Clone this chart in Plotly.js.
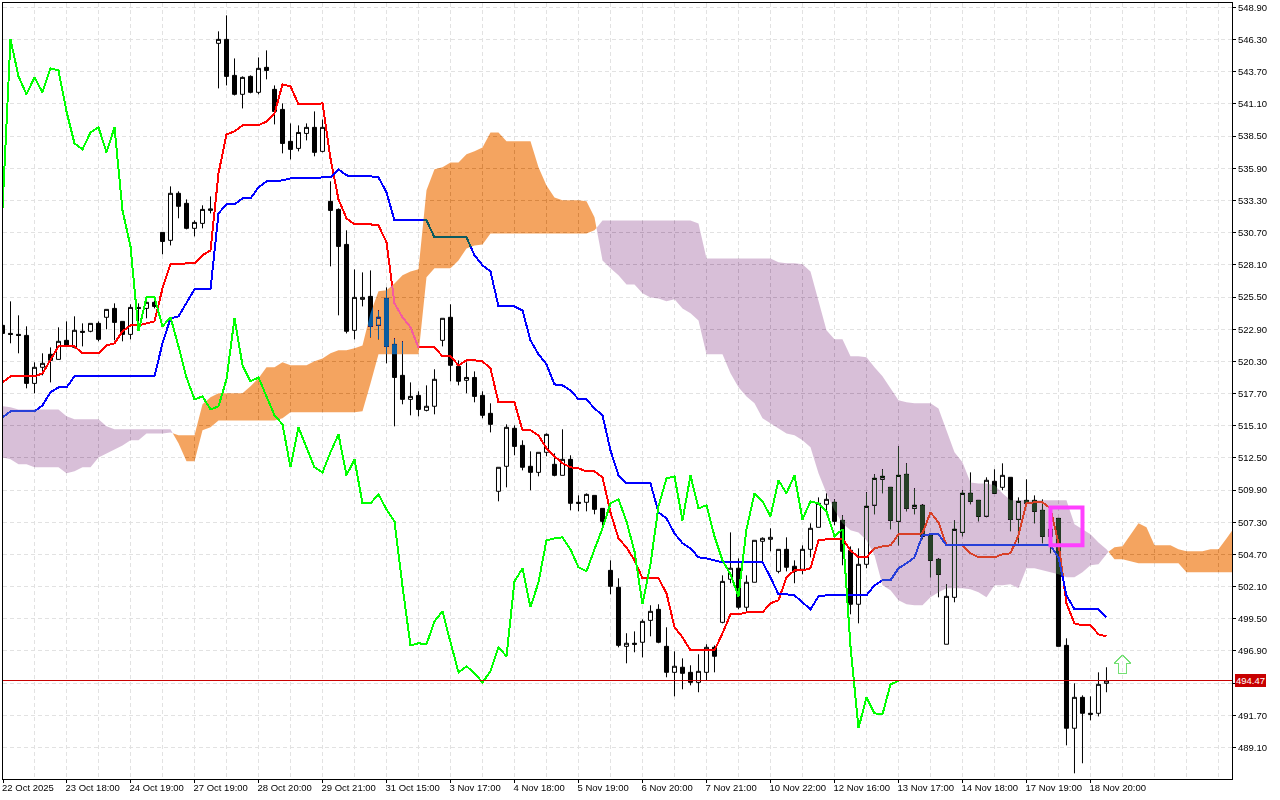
<!DOCTYPE html>
<html>
<head>
<meta charset="utf-8">
<script src="https://cdn.plot.ly/plotly-3.0.1.min.js"></script>
<style>html,body{margin:0;padding:0;background:#fff}#chart{width:1280px;height:800px}</style>
</head>
<body>
<div id="chart"></div>
<script>
const opens = [
523.21,522.56,522.48,522.40,518.52,519.82,520.87,520.46,522.00,521.43,
522.73,522.73,523.37,523.86,524.58,523.53,522.48,524.66,524.58,525.07,
530.72,530.08,533.88,533.07,531.05,531.45,532.50,546.00,546.32,543.41,
541.88,543.33,542.04,544.06,542.28,540.66,538.08,537.51,538.72,539.21,
537.27,533.23,532.58,529.75,522.81,525.31,525.55,523.21,525.39,521.67,
519.17,517.23,517.55,516.34,516.67,522.00,523.86,519.90,518.77,519.00,
517.55,516.10,509.80,511.82,514.89,513.51,511.82,511.33,512.95,511.98,
511.09,512.38,508.91,508.91,509.47,508.42,503.41,502.04,497.27,497.52,
497.60,499.37,500.26,497.27,495.17,495.58,495.17,494.36,495.17,497.19,
499.21,502.69,503.58,500.43,502.45,505.76,505.92,503.33,505.11,503.74,
503.50,505.11,506.89,508.75,508.91,507.45,505.03,500.67,503.90,508.67,
510.77,510.12,507.37,511.17,508.42,508.67,506.24,504.30,497.44,501.23,
506.48,509.64,509.07,507.78,510.61,510.12,510.93,507.53,509.07,509.07,
508.26,506.16,507.61,497.35,490.65,493.15,491.86,491.86,494.28];
const highs = [
525.23,525.15,524.02,523.13,520.22,520.95,521.43,523.05,523.53,523.94,
523.37,523.37,523.53,524.50,524.99,523.53,524.91,524.99,525.47,525.47,
530.72,534.44,534.04,533.39,531.69,532.91,533.63,546.97,548.26,544.78,
543.33,543.41,544.86,545.43,542.60,541.15,539.53,539.37,539.53,540.50,
539.85,534.85,532.66,530.89,527.73,527.49,527.65,524.42,526.28,522.16,
521.92,518.60,517.88,518.36,519.66,523.78,524.91,520.38,520.22,519.49,
517.88,516.91,511.74,515.21,515.13,513.92,513.03,512.95,514.48,512.87,
514.81,512.71,509.47,509.63,509.47,508.42,504.22,502.77,498.33,498.48,
499.45,500.59,500.67,498.81,496.87,496.30,495.74,496.63,497.44,497.35,
503.01,506.48,504.38,503.01,505.84,506.08,506.81,505.11,506.08,504.22,
505.43,507.21,509.31,509.63,509.15,507.86,505.35,505.19,509.72,511.17,
511.58,510.12,513.43,512.06,510.04,508.75,506.32,504.38,502.28,507.45,
509.88,511.33,509.07,510.93,511.58,512.06,510.93,509.31,510.77,509.47,
509.15,507.29,507.61,497.92,494.28,493.31,493.23,495.17,495.58];
const lows = [
522.00,521.76,520.95,518.12,517.72,519.17,518.60,520.46,521.51,521.35,
521.51,522.65,521.92,522.89,522.00,521.92,522.08,522.97,523.78,524.58,
528.95,529.67,531.86,530.97,530.40,531.05,532.26,542.36,542.60,541.79,
540.74,541.96,541.88,543.09,539.45,537.11,536.62,537.27,538.16,536.87,
537.19,527.98,524.02,522.56,522.08,524.74,522.24,522.08,520.14,515.05,
516.83,515.94,515.86,516.26,516.02,521.51,518.69,518.36,517.72,516.99,
515.70,514.56,508.99,510.12,512.71,511.49,509.88,511.01,512.63,511.01,
511.09,508.26,508.18,508.18,507.94,507.05,501.48,497.19,495.90,496.79,
496.38,498.08,497.52,494.77,493.23,493.80,494.12,493.56,494.52,495.17,
499.13,502.37,500.26,500.02,502.45,504.06,504.95,503.17,503.33,502.37,
503.09,504.46,506.89,507.86,507.05,503.82,499.86,499.13,503.58,507.94,
509.64,506.73,505.43,508.18,507.94,505.92,502.85,501.23,497.44,500.83,
506.16,508.75,507.37,507.70,509.64,509.88,506.57,505.60,508.83,507.21,
505.60,504.79,497.27,489.27,487.01,487.82,491.29,491.61,493.56];
const closes = [
522.56,522.48,522.40,518.52,519.82,520.14,520.38,521.92,521.51,522.81,
522.65,523.37,522.08,524.50,523.45,522.48,524.66,524.58,525.07,524.74,
529.99,533.88,532.83,531.05,531.53,532.58,532.62,546.32,543.33,541.88,
543.25,542.04,543.98,543.81,540.50,537.91,537.43,538.80,539.21,537.19,
539.21,532.50,529.59,522.73,525.47,525.47,523.13,523.86,521.51,519.00,
517.23,517.47,516.42,516.67,518.85,523.78,519.98,518.69,519.00,517.47,
515.94,515.21,511.74,514.97,513.43,511.74,511.33,512.95,514.40,511.09,
512.38,508.83,508.83,509.55,508.34,507.37,502.12,497.35,497.52,497.44,
499.29,500.10,497.60,495.17,495.66,495.09,494.36,495.25,497.19,496.47,
502.52,503.58,500.43,502.45,505.84,506.00,506.08,505.11,503.66,503.33,
505.11,506.81,508.83,509.15,507.37,504.95,500.67,503.90,508.59,510.85,
511.01,507.45,511.09,508.42,508.67,506.16,504.22,503.09,501.31,506.73,
509.64,508.99,507.78,510.69,509.64,511.09,507.53,508.99,508.83,508.18,
506.16,506.73,497.27,490.65,493.15,491.86,491.78,494.20,494.47];
const tenkan = [
518.60,519.09,519.09,519.09,519.09,519.33,520.38,521.51,521.51,521.51,
520.95,520.95,520.95,521.59,521.76,522.73,523.21,523.21,523.37,523.53,
526.20,528.14,528.14,528.22,528.22,528.87,529.27,535.49,538.64,538.89,
539.37,539.37,539.37,539.69,540.34,542.68,542.52,541.07,541.07,541.07,
541.15,536.70,533.39,531.86,531.37,531.37,531.37,531.29,529.92,524.99,
523.86,523.05,521.43,521.43,521.43,520.71,520.71,519.98,520.38,520.38,
520.30,519.74,516.99,516.99,516.99,514.73,514.73,514.32,513.27,512.63,
512.06,511.74,511.66,511.41,511.41,510.93,508.10,505.99,505.27,504.22,
502.77,502.77,502.77,501.56,498.81,498.00,496.95,496.95,496.95,496.95,
498.32,499.86,499.86,500.02,500.02,500.02,500.75,500.99,502.85,503.41,
503.41,503.58,505.84,505.92,505.92,505.99,505.03,504.46,504.46,505.19,
505.35,505.43,506.32,506.32,506.32,506.40,508.10,507.29,505.43,505.43,
505.43,504.79,504.46,504.46,504.46,504.71,504.79,506.24,508.83,508.91,
508.91,508.42,505.60,500.75,499.13,498.97,498.97,498.24,498.08];
const kijun = [
515.78,516.26,516.26,516.26,516.26,516.75,517.80,518.20,518.20,519.09,
519.09,519.09,519.09,519.09,519.09,519.09,519.09,519.09,519.09,519.09,
521.76,523.78,523.94,525.07,526.12,526.12,526.12,532.26,532.99,532.99,
533.47,533.47,534.36,534.85,534.85,534.93,535.09,535.09,535.09,535.09,
535.17,535.17,535.81,535.33,535.25,535.25,535.25,535.17,533.96,531.69,
531.69,531.69,531.69,531.69,530.32,530.32,530.32,530.32,530.32,528.87,
528.06,527.57,524.74,524.74,524.74,524.42,522.00,520.87,520.06,518.44,
518.36,517.96,517.23,517.23,516.50,515.94,513.11,511.09,510.44,510.44,
510.44,510.44,508.10,507.61,506.40,505.60,505.19,504.46,504.38,504.22,
504.06,504.06,504.06,504.06,504.06,504.06,502.85,501.47,501.47,501.39,
500.83,500.26,501.31,501.39,501.39,501.39,501.39,501.39,501.39,502.20,
502.61,502.61,503.58,503.98,504.46,506.24,506.32,506.32,505.43,505.43,
505.43,505.43,505.43,505.43,505.43,505.43,505.43,505.43,505.43,505.43,
505.43,505.43,504.46,501.39,500.26,500.26,500.26,500.26,499.62];
const chikou = [
532.62,546.32,543.33,541.88,543.25,542.04,543.98,543.81,540.50,537.91,
537.43,538.80,539.21,537.19,539.21,532.50,529.59,522.73,525.47,525.47,
523.13,523.86,521.51,519.00,517.23,517.47,516.42,516.67,518.85,523.78,
519.98,518.69,519.00,517.47,515.94,515.21,511.74,514.97,513.43,511.74,
511.33,512.95,514.40,511.09,512.38,508.83,508.83,509.55,508.34,507.37,
502.12,497.35,497.52,497.44,499.29,500.10,497.60,495.17,495.66,495.09,
494.36,495.25,497.19,496.47,502.52,503.58,500.43,502.45,505.84,506.00,
506.08,505.11,503.66,503.33,505.11,506.81,508.83,509.15,507.37,504.95,
500.67,503.90,508.59,510.85,511.01,507.45,511.09,508.42,508.67,506.16,
504.22,503.09,501.31,506.73,509.64,508.99,507.78,510.69,509.64,511.09,
507.53,508.99,508.83,508.18,506.16,506.73,497.27,490.65,493.15,491.86,
491.78,494.20,494.47];
const senkouA = [
512.54,512.38,511.98,511.98,511.74,511.74,511.74,511.74,511.25,511.41,
511.74,511.74,512.54,512.87,513.19,513.51,513.92,513.92,514.48,514.48,
514.48,514.56,514.32,514.32,514.32,516.83,517.39,517.72,517.72,517.72,
517.72,518.28,518.93,519.82,519.82,520.22,519.98,519.98,519.98,520.30,
520.54,520.95,521.19,521.19,521.35,521.59,524.18,525.96,526.04,526.60,
527.25,527.57,527.74,534.12,535.82,535.98,536.38,536.38,537.03,537.27,
537.59,538.80,538.80,538.08,538.08,538.08,538.08,535.98,534.52,533.55,
533.31,533.31,533.31,533.23,531.94,528.46,527.82,527.25,526.52,526.52,
525.80,525.47,525.39,525.15,525.31,524.58,524.18,523.61,520.87,520.87,
520.87,519.33,518.20,517.47,516.91,515.70,515.29,514.89,514.48,514.32,
513.92,513.35,511.25,509.64,508.26,507.21,506.65,506.48,505.84,504.63,
502.20,501.80,500.99,500.67,500.59,500.59,501.23,501.64,501.96,501.96,
501.96,501.88,501.64,501.23,502.20,502.20,502.28,501.96,503.58,503.58,
503.41,503.25,503.09,502.85,502.85,503.25,503.82,503.90,504.79,505.27,
505.35,506.24,507.21,506.89,505.43,505.43,505.43,505.11,504.95,504.95,
504.95,505.11,505.11,505.99,506.89];
const senkouB = [
516.67,516.59,516.42,516.42,516.42,516.42,516.42,516.42,515.86,515.62,
515.62,515.62,515.62,515.05,514.81,514.81,514.81,514.81,514.81,514.81,
514.81,514.81,513.68,512.22,512.22,514.73,514.97,515.53,515.53,515.53,
515.53,515.53,515.53,515.53,515.53,515.70,516.18,516.18,516.18,516.18,
516.18,516.18,516.18,516.18,516.18,516.26,518.52,520.87,520.87,520.87,
520.87,520.87,520.87,527.09,527.82,527.82,527.82,528.46,529.43,529.67,
529.75,530.64,530.64,530.64,530.64,530.64,530.64,530.64,530.64,530.64,
530.64,530.64,530.64,530.64,530.89,531.69,531.69,531.69,531.69,531.69,
531.69,531.69,531.69,531.69,531.69,531.69,531.69,531.45,528.62,528.62,
528.62,528.62,528.62,528.62,528.62,528.62,528.62,528.30,528.22,528.22,
528.14,527.57,525.23,522.81,522.08,522.08,520.71,520.71,520.63,519.82,
519.09,518.12,517.15,516.99,516.91,516.91,516.91,516.50,514.73,512.95,
512.14,510.52,510.44,510.44,510.28,509.64,509.07,509.07,509.07,509.07,
509.07,509.07,509.07,509.07,507.13,506.73,506.32,505.67,505.11,504.30,
504.30,504.14,503.98,503.98,503.98,503.98,503.98,503.98,503.25,503.25,
503.25,503.25,503.25,503.25,503.25];
const priceTickVals = [489.1,491.7,494.3,496.9,499.5,502.1,504.7,507.3,509.9,512.5,515.1,517.7,520.3,522.9,525.5,528.1,530.7,533.3,535.9,538.5,541.1,543.7,546.3,548.9];
const priceTickText = ["489.10","491.70","","496.90","499.50","502.10","504.70","507.30","509.90","512.50","515.10","517.70","520.30","522.90","525.50","528.10","530.70","533.30","535.90","538.50","541.10","543.70","546.30","548.90"];
const timeTickVals = [0.07,8,16,24,32,40,48,56,64,72,80,88,96,104,112,120,128,136];
const timeTickText = ["22 Oct 2025","23 Oct 18:00","24 Oct 19:00","27 Oct 19:00","28 Oct 20:00","29 Oct 21:00","31 Oct 15:00","3 Nov 17:00","4 Nov 18:00","5 Nov 19:00","6 Nov 20:00","7 Nov 21:00","10 Nov 22:00","12 Nov 16:00","13 Nov 17:00","14 Nov 18:00","17 Nov 19:00","18 Nov 20:00"];
const timeGridVals = [4,12,20,28,36,44,52,60,68,76,84,92,100,108,116,124,132,140,144,148,152];
const lastPriceLabel = '494.47';
const lastPriceLevel = 494.52;
const signalBoxX = [131,135];
const signalBoxY = [505.43,508.50];
const arrowX = [140,141,140.5,140.5,139.5,139.5,139,140];
const arrowY = [496.55,495.90,495.90,495.09,495.09,495.90,495.90,496.55];

const GRID = '#e2e2e2';
const FONT = 'Liberation Sans, Arial, sans-serif';
const ORANGE_INV = '#0B5B9F'; // complement of sandy brown, blended by difference
const PURPLE_INV = '#274027'; // complement of thistle, blended by difference

const idx = a => a.map((_, i) => i);

// cloud polygons: split where the two spans cross
function cloud(A, B) {
  const orange = {x: [], y: []}, purple = {x: [], y: []};
  let top = [], bot = [];
  const flush = s => {
    const t = s > 0 ? orange : purple;
    const pts = top.concat(bot.reverse());
    pts.forEach(p => { t.x.push(p[0]); t.y.push(p[1]); });
    t.x.push(pts[0][0], null); t.y.push(pts[0][1], null);
    top = []; bot = [];
  };
  for (let i = 0; i < A.length; i++) {
    const s = A[i] - B[i];
    top.push([i, A[i]]); bot.push([i, B[i]]);
    if (i + 1 < A.length) {
      const n = A[i + 1] - B[i + 1];
      if (s * n < 0) {
        const t = s / (s - n), xc = i + t, yc = A[i] + t * (A[i + 1] - A[i]);
        top.push([xc, yc]); bot.push([xc, yc]);
        flush(s);
        top.push([xc, yc]); bot.push([xc, yc]);
      }
    } else flush(s);
  }
  return {orange, purple};
}
const kumo = cloud(senkouA, senkouB);

const line = (x, y, color, w) => ({type: 'scatter', mode: 'lines', x, y, line: {color, width: w}, hoverinfo: 'skip', showlegend: false});
const fillTrace = (p, c) => ({type: 'scatter', mode: 'lines', x: p.x, y: p.y, fill: 'toself', fillcolor: c, line: {width: 0, color: c}, hoverinfo: 'skip', showlegend: false});

const traces = [
  {type: 'candlestick', x: idx(opens), open: opens, high: highs, low: lows, close: closes,
   increasing: {line: {color: '#000', width: 1}, fillcolor: '#fff'},
   decreasing: {line: {color: '#000', width: 1}, fillcolor: '#000'},
   whiskerwidth: 0, hoverinfo: 'skip', showlegend: false},
  line(idx(tenkan), tenkan, '#ff0000', 2),
  line(idx(kijun), kijun, '#0000ff', 2),
  fillTrace(kumo.purple, PURPLE_INV),
  fillTrace(kumo.orange, ORANGE_INV),
  line(idx(chikou), chikou, '#00ff00', 2),
  line([0.0625, 153.69], [lastPriceLevel, lastPriceLevel], '#c80000', 1),
  line(arrowX, arrowY, '#74e074', 1.5)
];

const layout = {
  width: 1280, height: 800,
  margin: {l: 3, r: 48, t: 3, b: 21, pad: 0},
  paper_bgcolor: '#fff', plot_bgcolor: '#fff',
  showlegend: false, boxgap: 0.5, boxgroupgap: 0,
  font: {family: FONT, size: 10, color: '#000'},
  xaxis: {
    type: 'linear', range: [0.0625, 153.69], fixedrange: true, rangeslider: {visible: false},
    tickmode: 'array', tickvals: timeTickVals, ticktext: timeTickText, tickangle: 0,
    ticks: 'outside', ticklen: 3, tickcolor: '#000', tickwidth: 1,
    ticklabelposition: 'outside right', ticklabelshift: -2,
    tickfont: {family: FONT, size: 9.5, color: '#000'},
    showline: true, linecolor: '#000', linewidth: 1, mirror: true,
    showgrid: true, gridcolor: GRID, griddash: '4px,3px', gridwidth: 1, zeroline: false,
    minor: {tickmode: 'array', tickvals: timeGridVals, showgrid: true, gridcolor: GRID, griddash: '4px,3px', gridwidth: 1, ticks: ''}
  },
  yaxis: {
    type: 'linear', range: [486.55, 549.26], side: 'right', fixedrange: true,
    tickmode: 'array', tickvals: priceTickVals, ticktext: priceTickText,
    ticks: 'outside', ticklen: 3, tickcolor: '#000', tickwidth: 1,
    tickfont: {family: FONT, size: 9.5, color: '#000'},
    showline: true, linecolor: '#000', linewidth: 1, mirror: true,
    showgrid: true, gridcolor: GRID, griddash: '4px,3px', gridwidth: 1, zeroline: false
  },
  shapes: [{type: 'rect', xref: 'x', yref: 'y', layer: 'above',
    x0: signalBoxX[0], x1: signalBoxX[1], y0: signalBoxY[0], y1: signalBoxY[1],
    line: {color: '#ff40ff', width: 4}, fillcolor: 'rgba(0,0,0,0)'}],
  annotations: [{xref: 'paper', yref: 'y', x: 1, y: lastPriceLevel, xanchor: 'left', yanchor: 'middle', xshift: 3,
    text: lastPriceLabel, showarrow: false, bgcolor: '#c80000', borderpad: 1, borderwidth: 0,
    font: {family: FONT, size: 9.5, color: '#fff'}}]
};

Plotly.newPlot('chart', traces, layout, {staticPlot: true, displayModeBar: false}).then(gd => {
  // Cloud is painted as an inverted-colour difference over candles and lines,
  // so black candles turn dark green / blue and red turns pink as in the terminal.
  const scatterLayer = gd.querySelector('.scatterlayer');
  const plot = scatterLayer.parentNode;
  let clip = plot.getAttribute('clip-path');
  let host = plot;
  while (!clip && host && host !== gd) {
    host = host.parentNode;
    clip = host.getAttribute && host.getAttribute('clip-path');
  }
  if (clip) {
    host.removeAttribute('clip-path');
    const guard = [gd.querySelector('.boxlayer')].concat(Array.from(scatterLayer.querySelectorAll('.js-line')));
    guard.forEach(el => { if (el) el.setAttribute('clip-path', clip); });
  }
  scatterLayer.querySelectorAll('.js-fill').forEach(el => {
    if (clip) el.setAttribute('clip-path', clip);
    el.style.mixBlendMode = 'difference';
  });
  scatterLayer.querySelectorAll('.js-line').forEach(el => { el.style.shapeRendering = 'crispEdges'; });
});
</script>
</body>
</html>
